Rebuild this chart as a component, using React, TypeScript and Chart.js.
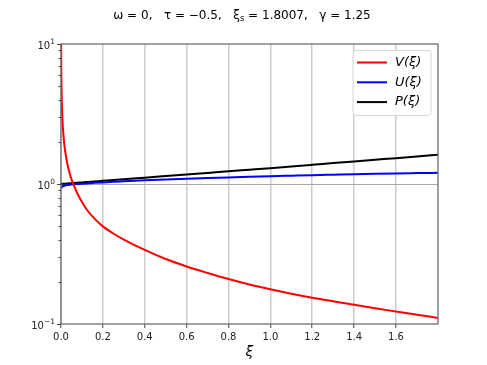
import React, { useEffect, useRef } from 'react';
import { Chart, registerables } from 'chart.js';

Chart.register(...registerables);

// ξ sample positions
const xi = [0, 0.0005, 0.001, 0.002, 0.004, 0.007, 0.012, 0.019, 0.03, 0.045, 0.06, 0.08, 0.1, 0.13, 0.16, 0.2, 0.25, 0.3, 0.4, 0.5, 0.6, 0.7, 0.8, 0.9, 1.0, 1.1, 1.2, 1.3, 1.4, 1.5, 1.6, 1.7, 1.8007];

const vValues = [null, 10.7, 7.6, 5.4, 3.8, 2.87, 2.2, 1.75, 1.4, 1.14, 0.99, 0.845, 0.745, 0.636, 0.566, 0.498, 0.443, 0.401, 0.338, 0.291, 0.2575, 0.2315, 0.2095, 0.1915, 0.177, 0.1645, 0.154, 0.1452, 0.137, 0.1295, 0.1228, 0.1165, 0.1105];

const uValues = [0.93, 0.935, 0.939, 0.944, 0.952, 0.96, 0.968, 0.976, 0.984, 0.99, 0.995, 1.0, 1.005, 1.012, 1.019, 1.027, 1.036, 1.045, 1.062, 1.077, 1.09, 1.102, 1.114, 1.126, 1.137, 1.147, 1.157, 1.166, 1.175, 1.183, 1.19, 1.196, 1.202];

const pValues = [1.0, 1.0, 1.0, 1.001, 1.002, 1.003, 1.004, 1.006, 1.009, 1.013, 1.017, 1.022, 1.027, 1.035, 1.043, 1.054, 1.068, 1.082, 1.11, 1.14, 1.17, 1.2, 1.232, 1.264, 1.297, 1.332, 1.37, 1.41, 1.45, 1.49, 1.53, 1.575, 1.62];

const seriesNames = ['V(ξ)', 'U(ξ)', 'P(ξ)'];
const seriesColors = ['#ff0000', '#0000ff', '#000000'];

const xTicks = [0, 0.2, 0.4, 0.6, 0.8, 1.0, 1.2, 1.4, 1.6];
const yMajorTicks = [0.1, 1, 10];
const yMajorExponents = ['−1', '0', '1'];
const yMinorTicks = [0.2, 0.3, 0.4, 0.5, 0.6, 0.7, 0.8, 0.9, 2, 3, 4, 5, 6, 7, 8, 9];

const titleParts = [
  { text: 'ω = 0,   τ = −0.5,   ξ', sub: false },
  { text: 's', sub: true },
  { text: ' = 1.8007,   γ = 1.25', sub: false },
];

const FONT = "'DejaVu Sans', sans-serif";

const decorPlugin = {
  id: 'decor',
  afterDraw(chart: any) {
    const { ctx, chartArea: a, scales } = chart;
    ctx.save();
    // spines
    ctx.strokeStyle = '#6a6a6a';
    ctx.lineWidth = 1.25;
    ctx.strokeRect(a.left, a.top, a.right - a.left, a.bottom - a.top);

    // y ticks
    const ys = scales.y;
    ctx.lineWidth = 1;
    ctx.strokeStyle = '#444';
    yMinorTicks.forEach((v) => {
      const p = Math.round(ys.getPixelForValue(v)) + 0.5;
      ctx.beginPath();
      ctx.moveTo(a.left, p);
      ctx.lineTo(a.left - 2.5, p);
      ctx.stroke();
    });
    yMajorTicks.forEach((v, i) => {
      const p = Math.round(ys.getPixelForValue(v)) + 0.5;
      ctx.beginPath();
      ctx.moveTo(a.left, p);
      ctx.lineTo(a.left - 4, p);
      ctx.stroke();
      // label 10^e
      ctx.fillStyle = '#222';
      ctx.textBaseline = 'alphabetic';
      ctx.font = `7.5px ${FONT}`;
      const ew = ctx.measureText(yMajorExponents[i]).width;
      ctx.font = `10px ${FONT}`;
      const bw = ctx.measureText('10').width;
      const right = a.left - 6;
      ctx.textAlign = 'left';
      ctx.fillText('10', right - ew - bw, p + 4);
      ctx.font = `7.5px ${FONT}`;
      ctx.fillText(yMajorExponents[i], right - ew, p - 1);
    });

    // title
    ctx.fillStyle = '#000';
    ctx.textBaseline = 'alphabetic';
    ctx.textAlign = 'left';
    let total = 0;
    const widths = titleParts.map((p) => {
      ctx.font = `${p.sub ? 8.5 : 12}px ${FONT}`;
      const w = ctx.measureText(p.text).width;
      total += w;
      return w;
    });
    let x = 242 - total / 2;
    titleParts.forEach((p, i) => {
      ctx.font = `${p.sub ? 8.5 : 12}px ${FONT}`;
      ctx.fillText(p.text, x, p.sub ? 21 : 18.5);
      x += widths[i];
    });

    // x label
    ctx.font = `italic 14px ${FONT}`;
    ctx.textAlign = 'center';
    ctx.textBaseline = 'middle';
    ctx.fillText('ξ', (a.left + a.right) / 2, 352);

    // legend
    const lx = 353, ly = 50.5, lw = 78, lh = 65;
    ctx.beginPath();
    const r = 3;
    ctx.moveTo(lx + r, ly);
    ctx.lineTo(lx + lw - r, ly);
    ctx.quadraticCurveTo(lx + lw, ly, lx + lw, ly + r);
    ctx.lineTo(lx + lw, ly + lh - r);
    ctx.quadraticCurveTo(lx + lw, ly + lh, lx + lw - r, ly + lh);
    ctx.lineTo(lx + r, ly + lh);
    ctx.quadraticCurveTo(lx, ly + lh, lx, ly + lh - r);
    ctx.lineTo(lx, ly + r);
    ctx.quadraticCurveTo(lx, ly, lx + r, ly);
    ctx.closePath();
    ctx.fillStyle = 'rgba(255,255,255,0.85)';
    ctx.fill();
    ctx.strokeStyle = '#d6d6d6';
    ctx.lineWidth = 1;
    ctx.stroke();
    seriesNames.forEach((name, i) => {
      const y = 62.5 + i * 19.8;
      ctx.strokeStyle = seriesColors[i];
      ctx.lineWidth = 2;
      ctx.beginPath();
      ctx.moveTo(357, y);
      ctx.lineTo(387, y);
      ctx.stroke();
      ctx.fillStyle = '#000';
      ctx.font = `italic 13px ${FONT}`;
      ctx.textAlign = 'left';
      ctx.textBaseline = 'middle';
      ctx.fillText(name, 395, y);
    });
    ctx.restore();
  },
};

export default function App() {
  const ref = useRef<HTMLCanvasElement | null>(null);
  useEffect(() => {
    if (!ref.current) return;
    const mk = (vals: (number | null)[]) => xi.map((x, i) => ({ x, y: vals[i] }));
    const allVals = [vValues, uValues, pValues];
    const chart = new Chart(ref.current, {
      type: 'line',
      data: {
        datasets: allVals.map((vals, i) => ({
          label: seriesNames[i],
          data: mk(vals) as any,
          borderColor: seriesColors[i],
          backgroundColor: seriesColors[i],
          borderWidth: 2,
          pointRadius: 0,
          cubicInterpolationMode: 'monotone' as const,
          fill: false,
        })),
      },
      options: {
        responsive: false,
        animation: false,
        events: [],
        layout: { padding: { top: 44, right: 49, left: 0, bottom: 0 } },
        plugins: { legend: { display: false }, title: { display: false }, tooltip: { enabled: false } },
        scales: {
          x: {
            type: 'linear',
            min: 0,
            max: 1.8007,
            afterBuildTicks: (s: any) => {
              s.ticks = xTicks.map((v) => ({ value: v }));
            },
            afterFit: (s: any) => {
              s.height = 41;
            },
            border: { display: false },
            grid: { color: '#cccccc', lineWidth: 1.5, tickColor: '#444', tickLength: 4, tickWidth: 1 },
            ticks: {
              callback: (v: any) => Number(v).toFixed(1),
              font: { family: 'DejaVu Sans', size: 10 },
              color: '#222',
              padding: 3,
              maxRotation: 0,
              autoSkip: false,
            },
          },
          y: {
            type: 'logarithmic',
            min: 0.1,
            max: 10,
            afterBuildTicks: (s: any) => {
              s.ticks = [1].map((v) => ({ value: v }));
            },
            afterFit: (s: any) => {
              s.width = 61;
            },
            border: { display: false },
            grid: { color: '#a8a8a8', lineWidth: 1, drawTicks: false },
            ticks: { display: false },
          },
        },
      },
      plugins: [decorPlugin],
    });
    return () => chart.destroy();
  }, []);
  return (
    <div style={{ position: 'absolute', left: 0, top: 0, width: 487, height: 365, background: '#fff' }}>
      <canvas ref={ref} width={487} height={365} style={{ width: 487, height: 365, display: 'block' }} />
    </div>
  );
}
